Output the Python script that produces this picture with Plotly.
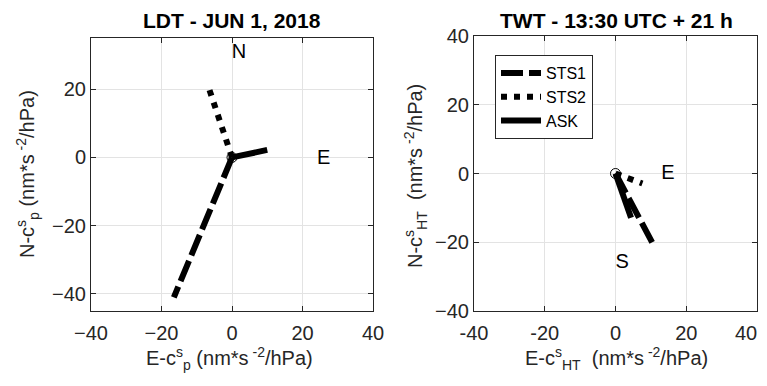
import plotly.graph_objects as go

# ---- data ----
series_names = ["STS1", "STS2", "ASK"]
# left panel (LDT - JUN 1, 2018): end points of vectors from origin
ldt_x = [-16.5, -6.4, 10.0]
ldt_y = [-41.0, 19.8, 2.2]
# right panel (TWT - 13:30 UTC + 21 h)
twt_x = [10.5, 7.6, 4.4]
twt_y = [-20.3, -2.9, -12.9]

ldt_labels = ["N", "E"]
ldt_label_x = [2.0, 26.0]
ldt_label_y = [30.7, -0.4]
twt_labels = ["E", "S"]
twt_label_x = [14.8, 1.9]
twt_label_y = [0.0, -26.0]

x_ticks = [-40, -20, 0, 20, 40]
ldt_y_ticks = [-40, -20, 0, 20]
twt_y_ticks = [-40, -20, 0, 20, 40]

titles = ["LDT - JUN 1, 2018", "TWT - 13:30 UTC + 21 h"]

FONT = "Liberation Sans, Arial, Helvetica, sans-serif"
AX = "#262626"
dashes = ["22px,6px", "6px,7px", "solid"]

fig = go.Figure()

for i, name in enumerate(series_names):
    fig.add_trace(go.Scatter(x=[0, ldt_x[i]], y=[0, ldt_y[i]], mode="lines", name=name,
                             line=dict(color="black", width=6, dash=dashes[i]),
                             xaxis="x", yaxis="y", showlegend=True))
for i, name in enumerate(series_names):
    fig.add_trace(go.Scatter(x=[0, twt_x[i]], y=[0, twt_y[i]], mode="lines", name=name,
                             line=dict(color="black", width=6, dash=dashes[i]),
                             xaxis="x2", yaxis="y2", showlegend=False))

for xa, ya in (("x", "y"), ("x2", "y2")):
    fig.add_trace(go.Scatter(x=[0], y=[0], mode="markers", showlegend=False,
                             marker=dict(symbol="circle-open", size=10, color="black",
                                         line=dict(width=1, color="black")),
                             xaxis=xa, yaxis=ya))

fig.add_trace(go.Scatter(x=ldt_label_x, y=ldt_label_y, mode="text", text=ldt_labels,
                         textfont=dict(family=FONT, size=20, color="black"),
                         showlegend=False, xaxis="x", yaxis="y"))
fig.add_trace(go.Scatter(x=twt_label_x, y=twt_label_y, mode="text", text=twt_labels,
                         textfont=dict(family=FONT, size=20, color="black"),
                         showlegend=False, xaxis="x2", yaxis="y2"))

# the page body has an 8px margin; size the figure so it fits the window without scrollbars
OFF = 8
W, H = 767 - 2 * OFF, 386 - 2 * OFF
def px(v): return (v - OFF) / W
def py(v): return 1 - (v - OFF) / H

axis_common = dict(showline=True, linecolor=AX, linewidth=1, mirror="ticks",
                   ticks="inside", ticklen=5, tickcolor=AX, tickwidth=1,
                   showgrid=True, gridcolor="#e3e3e3", gridwidth=1, automargin=False,
                   zeroline=False, tickfont=dict(family=FONT, size=20, color=AX))

# the last right-panel x label is drawn separately, pulled inward so it stays inside the window
x2_ticktext = [str(t) for t in x_ticks[:-1]] + [""]

fig.update_layout(
    width=W, height=H, margin=dict(l=0, r=0, t=0, b=0, pad=0, autoexpand=False),
    paper_bgcolor="white", plot_bgcolor="white",
    font=dict(family=FONT, color=AX),
    xaxis=dict(domain=[px(91), px(373)], range=[-40, 40], tickvals=x_ticks,
               anchor="y", ticklabelstandoff=4, **axis_common),
    yaxis=dict(domain=[py(311), py(38)], range=[-45, 35], tickvals=ldt_y_ticks,
               anchor="x", **axis_common),
    xaxis2=dict(domain=[px(474), px(757)], range=[-40, 40], tickvals=x_ticks,
                ticktext=x2_ticktext, anchor="y2", ticklabelstandoff=4, **axis_common),
    yaxis2=dict(domain=[py(311), py(36)], range=[-40, 40], tickvals=twt_y_ticks,
                anchor="x2", **axis_common),
    legend=dict(x=px(495), y=py(55), xanchor="left", yanchor="top",
                bgcolor="white", bordercolor=AX, borderwidth=1, itemwidth=40,
                font=dict(family=FONT, size=16, color="black")),
    showlegend=True,
)

ann = []
ann.append(dict(text=str(x_ticks[-1]), x=x_ticks[-1], xref="x2", y=py(333), yref="paper",
                showarrow=False, xanchor="right", xshift=2, yanchor="middle",
                font=dict(family=FONT, size=20, color=AX)))
ann.append(dict(text="<b>" + titles[0] + "</b>", x=px(231.5), y=py(20), xref="paper", yref="paper",
                showarrow=False, font=dict(family=FONT, size=21, color="black"),
                xanchor="center", yanchor="middle"))
ann.append(dict(text="<b>" + titles[1] + "</b>", x=px(616), y=py(20), xref="paper", yref="paper",
                showarrow=False, font=dict(family=FONT, size=21, color="black"),
                xanchor="center", yanchor="middle"))
ann.append(dict(text="E-c<sup>s</sup><sub>p</sub> (nm*s<sup> -2</sup>/hPa)", x=px(229), y=py(358),
                xref="paper", yref="paper", showarrow=False,
                font=dict(family=FONT, size=20, color=AX), xanchor="center", yanchor="middle"))
ann.append(dict(text="E-c<sup>s</sup><sub>HT</sub>  (nm*s<sup> -2</sup>/hPa)", x=px(616), y=py(358),
                xref="paper", yref="paper", showarrow=False,
                font=dict(family=FONT, size=20, color=AX), xanchor="center", yanchor="middle"))
ann.append(dict(text="N-c<sup>s</sup><sub>p</sub> (nm*s<sup> -2</sup>/hPa)", x=px(27), y=py(174),
                xref="paper", yref="paper", showarrow=False, textangle=-90,
                font=dict(family=FONT, size=20, color=AX), xanchor="center", yanchor="middle"))
ann.append(dict(text="N-c<sup>s</sup><sub>HT</sub>  (nm*s<sup> -2</sup>/hPa)", x=px(415), y=py(176),
                xref="paper", yref="paper", showarrow=False, textangle=-90,
                font=dict(family=FONT, size=20, color=AX), xanchor="center", yanchor="middle"))
fig.update_layout(annotations=ann)

fig.write_html("out.html")
